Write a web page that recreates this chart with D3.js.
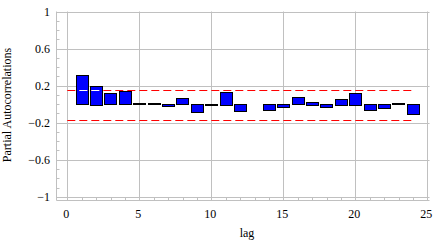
<!DOCTYPE html>
<html>
<head>
<meta charset="utf-8">
<script src="https://cdn.jsdelivr.net/npm/d3@7"></script>
<style>
  body { margin: 0; background: #fff; }
  text { font-family: "Liberation Serif", "Times New Roman", serif; font-size: 12px; fill: #000; }
</style>
</head>
<body>
<script>
const lags = d3.range(1, 25);
const pacf = [0.31, 0.20, 0.117, 0.138, 0.003, 0.015, -0.025, 0.07, -0.09, -0.006,
              0.135, -0.075, 0.0, -0.065, -0.03, 0.08, 0.028, -0.03, 0.06, 0.125,
              -0.065, -0.045, 0.012, -0.11];
const bounds = [0.153, -0.167];
const xTicks = [0, 5, 10, 15, 20, 25];
const yTicks = [-1, -0.6, -0.2, 0.2, 0.6, 1];

(function () {
    const width = 441;
    const height = 247;

    const svg = d3.select('body')
        .append('svg')
        .attr('width', width)
        .attr('height', height);

    const x = d3.scaleLinear().domain([-0.75, 25.15]).range([56.5, 429.5]);
    const y = d3.scaleLinear().domain([-1.04, 1]).range([200.5, 11.5]);
    const grid = '#c0c0c0';

    // gridlines
    svg.append('g')
        .selectAll('line')
        .data(yTicks)
        .join('line')
        .attr('x1', x.range()[0]).attr('x2', x.range()[1])
        .attr('y1', d => Math.round(y(d)) + 0.5).attr('y2', d => Math.round(y(d)) + 0.5)
        .attr('stroke', grid);

    svg.append('g')
        .selectAll('line')
        .data(xTicks)
        .join('line')
        .attr('x1', d => Math.round(x(d)) + 0.5).attr('x2', d => Math.round(x(d)) + 0.5)
        .attr('y1', y.range()[1]).attr('y2', y.range()[0])
        .attr('stroke', grid);

    // axes lines
    svg.append('line')
        .attr('x1', x.range()[0]).attr('x2', x.range()[0])
        .attr('y1', y.range()[1]).attr('y2', y.range()[0])
        .attr('stroke', grid);
    svg.append('line')
        .attr('x1', x.range()[0]).attr('x2', x.range()[1])
        .attr('y1', y.range()[0]).attr('y2', y.range()[0])
        .attr('stroke', grid);

    // minor ticks
    const yMinor = d3.range(-10, 11).map(d => d / 10).filter(d => !yTicks.some(t => Math.abs(t - d) < 1e-9));
    svg.append('g')
        .selectAll('line')
        .data(yMinor)
        .join('line')
        .attr('x1', x.range()[0]).attr('x2', x.range()[0] + 3)
        .attr('y1', d => Math.round(y(d)) + 0.5).attr('y2', d => Math.round(y(d)) + 0.5)
        .attr('stroke', grid);

    const xMinor = d3.range(0, 26).filter(d => d % 5 !== 0);
    svg.append('g')
        .selectAll('line')
        .data(xMinor)
        .join('line')
        .attr('x1', d => Math.round(x(d)) + 0.5).attr('x2', d => Math.round(x(d)) + 0.5)
        .attr('y1', y.range()[0]).attr('y2', y.range()[0] - 3)
        .attr('stroke', grid);

    // tick labels
    svg.append('g')
        .selectAll('text')
        .data(yTicks)
        .join('text')
        .attr('x', 50)
        .attr('y', d => y(d) + 4)
        .attr('text-anchor', 'end')
        .text(d => d3.format('')(d));

    svg.append('g')
        .selectAll('text')
        .data(xTicks)
        .join('text')
        .attr('x', d => x(d) - 1)
        .attr('y', 218)
        .attr('text-anchor', 'middle')
        .text(d => d);

    svg.append('text')
        .attr('x', 247)
        .attr('y', 237)
        .attr('text-anchor', 'middle')
        .text('lag');

    svg.append('text')
        .attr('transform', 'translate(11,105) rotate(-90)')
        .attr('text-anchor', 'middle')
        .text('Partial Autocorrelations');

    // bars
    const bw = 0.85;
    const barX = d => Math.round(x(d - bw / 2)) + 0.5;
    const barW = () => Math.round(x(bw) - x(0));
    const barY = v => Math.round(y(Math.max(0, v))) + 0.5 - (v > 0 && Math.round(Math.abs(y(v) - y(0))) === 0 ? 1 : 0);
    const barH = v => v === 0 ? 0 : Math.max(1, Math.round(Math.abs(y(v) - y(0))));

    svg.append('g')
        .selectAll('rect')
        .data(lags)
        .join('rect')
        .attr('x', d => barX(d))
        .attr('y', (d, i) => barY(pacf[i]))
        .attr('width', barW)
        .attr('height', (d, i) => barH(pacf[i]))
        .attr('fill', '#0000ff')
        .attr('stroke', '#000')
        .attr('stroke-width', 1);

    // clip of bar interiors, for the xor-like dashes
    svg.append('clipPath')
        .attr('id', 'barclip')
        .selectAll('rect')
        .data(lags)
        .join('rect')
        .attr('x', d => barX(d) + 0.5)
        .attr('y', (d, i) => barY(pacf[i]) + 0.5)
        .attr('width', d => barW() - 1)
        .attr('height', (d, i) => Math.max(0, barH(pacf[i]) - 1));

    // significance bounds
    const bline = svg.append('g');
    bline.selectAll('line.red')
        .data(bounds)
        .join('line')
        .attr('class', 'red')
        .attr('x1', x(0)).attr('x2', x(24))
        .attr('y1', d => Math.round(y(d)) + 0.5).attr('y2', d => Math.round(y(d)) + 0.5)
        .attr('stroke', '#ff0000')
        .attr('stroke-dasharray', '8,4');
    bline.selectAll('line.white')
        .data(bounds)
        .join('line')
        .attr('class', 'white')
        .attr('clip-path', 'url(#barclip)')
        .attr('x1', x(0)).attr('x2', x(24))
        .attr('y1', d => Math.round(y(d)) + 0.5).attr('y2', d => Math.round(y(d)) + 0.5)
        .attr('stroke', '#ffffff')
        .attr('stroke-dasharray', '8,4');
})();
</script>
</body>
</html>
